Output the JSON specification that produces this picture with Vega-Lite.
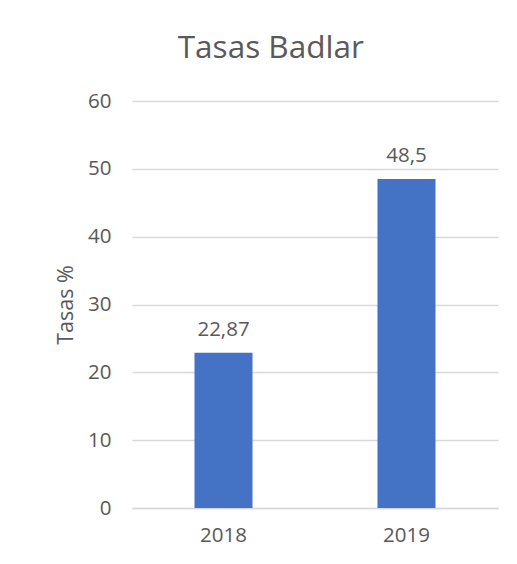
{
  "$schema": "https://vega.github.io/schema/vega-lite/v6.json",
  "autosize": "none",
  "width": 366,
  "height": 407,
  "padding": {"left": 132, "top": 101, "right": 19, "bottom": 56},
  "background": "white",
  "title": {
    "text": "Tasas Badlar",
    "font": "Open Sans",
    "fontSize": 31.5,
    "fontWeight": "normal",
    "color": "#595959",
    "anchor": "middle",
    "frame": "bounds",
    "offset": 27,
    "dx": -6
  },
  "data": {
    "values": [
      {"anio": "2018", "tasa": 22.87, "etiqueta": "22,87"},
      {"anio": "2019", "tasa": 48.5, "etiqueta": "48,5"}
    ]
  },
  "config": {
    "view": {"stroke": null},
    "font": "Open Sans"
  },
  "encoding": {
    "x": {
      "field": "anio",
      "type": "nominal",
      "scale": {"paddingInner": 0.683, "paddingOuter": 0.3415},
      "axis": {
        "title": null,
        "labelAngle": 0,
        "labelFontSize": 20.5,
        "labelColor": "#595959",
        "labelPadding": 17,
        "ticks": false,
        "domain": true,
        "domainColor": "#d9d9d9",
        "domainWidth": 1.5
      }
    },
    "y": {
      "field": "tasa",
      "type": "quantitative",
      "scale": {"domain": [0, 60]},
      "axis": {
        "title": "Tasas %",
        "titleFontSize": 21.5,
        "titleFontWeight": "normal",
        "titleColor": "#595959",
        "titlePadding": 10,
        "values": [0, 10, 20, 30, 40, 50, 60],
        "labelFontSize": 20.5,
        "labelColor": "#595959",
        "labelPadding": 21,
        "ticks": false,
        "domain": false,
        "gridColor": "#d9d9d9",
        "gridWidth": 1.5
      }
    }
  },
  "layer": [
    {"mark": {"type": "bar", "color": "#4472C4"}},
    {
      "mark": {"type": "text", "fontSize": 20.5, "color": "#595959", "baseline": "alphabetic", "dy": -17},
      "encoding": {"text": {"field": "etiqueta"}}
    }
  ]
}
